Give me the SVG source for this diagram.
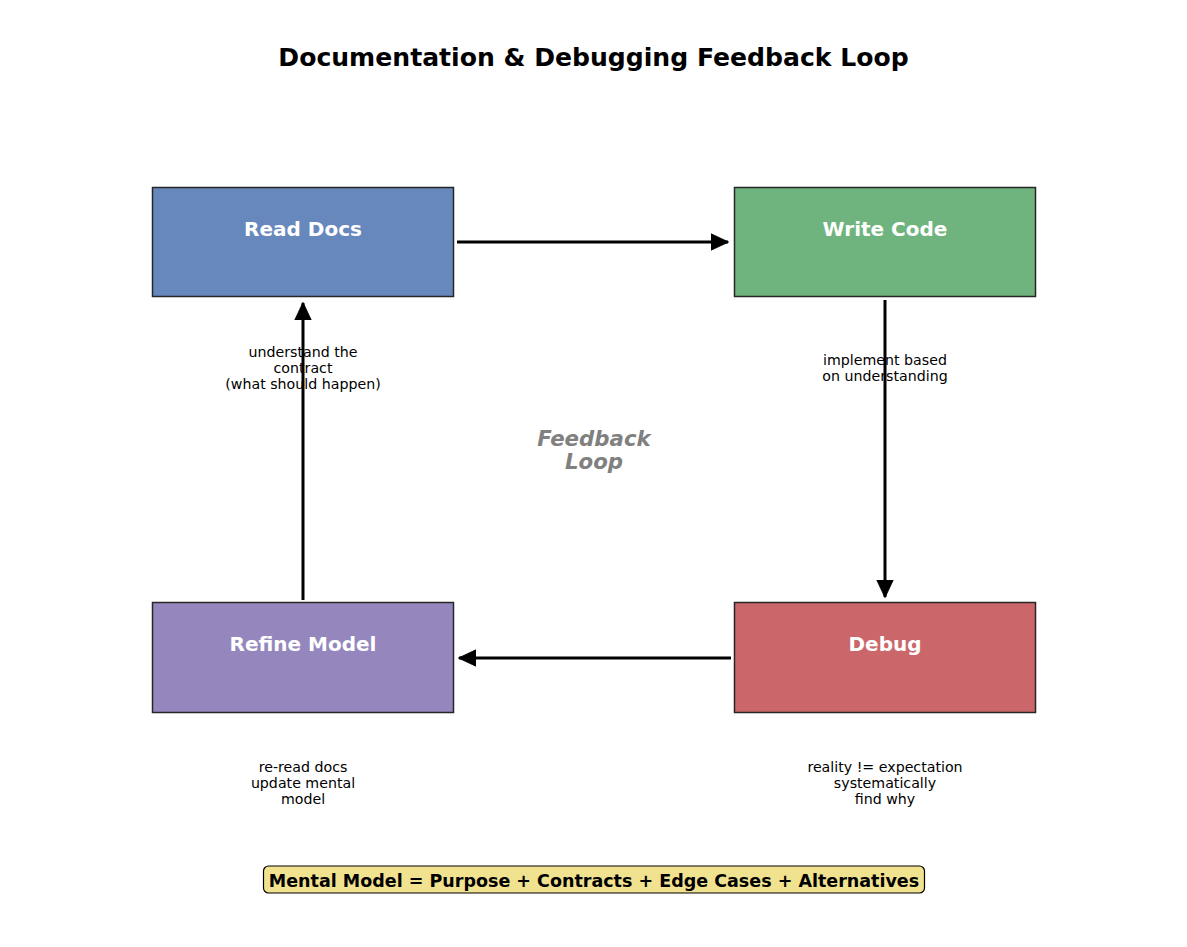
<svg xmlns="http://www.w3.org/2000/svg" width="1187" height="947" viewBox="0 0 1187 947">
<style>
.box{stroke:#262626;stroke-width:1.5}
.lbl{font-family:"DejaVu Sans",sans-serif;font-weight:bold;font-size:20px;fill:#fff;text-anchor:middle}
.ann{font-family:"DejaVu Sans",sans-serif;font-size:14.2px;fill:#000;text-anchor:middle}
.edge{stroke:#000;stroke-width:3;fill:none;marker-end:url(#ah)}
.fb{font-family:"DejaVu Sans",sans-serif;font-weight:bold;font-style:italic;font-size:21.3px;fill:#808080;text-anchor:middle}
</style>
<defs>
<marker id="ah" markerWidth="7" markerHeight="7" refX="5.8" refY="3" orient="auto" markerUnits="strokeWidth">
<path d="M0,0.2 L6,3 L0,5.8 Z" fill="#000" stroke="#000" stroke-width="0.3" stroke-linejoin="round"/>
</marker>
</defs>
<rect width="1187" height="947" fill="#fff"/>
<text x="593.5" y="66" font-family="DejaVu Sans,sans-serif" font-weight="bold" font-size="25.1px" text-anchor="middle" fill="#000">Documentation &amp; Debugging Feedback Loop</text>
<g id="connectors">
<line class="edge" x1="457" y1="242" x2="728" y2="242"/>
<line class="edge" x1="885" y1="300" x2="885" y2="597"/>
<line class="edge" x1="731" y1="658" x2="459" y2="658"/>
<line class="edge" x1="303" y1="600" x2="303" y2="303"/>
</g>
<g id="read-docs">
<rect class="box" x="152.5" y="187.5" width="301" height="109" fill="#6788BC"/>
<text class="lbl" x="303" y="236">Read Docs</text>
</g>
<g id="write-code">
<rect class="box" x="734.5" y="187.5" width="301" height="109" fill="#6FB47E"/>
<text class="lbl" x="885" y="236">Write Code</text>
</g>
<g id="debug">
<rect class="box" x="734.5" y="602.5" width="301" height="110" fill="#CB676A"/>
<text class="lbl" x="885" y="651">Debug</text>
</g>
<g id="refine-model">
<rect class="box" x="152.5" y="602.5" width="301" height="110" fill="#9587BD"/>
<text class="lbl" x="303" y="651">Refine Model</text>
</g>
<g id="annotations">
<text class="ann" x="303" y="357">understand the</text>
<text class="ann" x="303" y="373">contract</text>
<text class="ann" x="303" y="389">(what should happen)</text>
<text class="ann" x="885" y="365">implement based</text>
<text class="ann" x="885" y="381">on understanding</text>
<text class="ann" x="303" y="772">re-read docs</text>
<text class="ann" x="303" y="788">update mental</text>
<text class="ann" x="303" y="804">model</text>
<text class="ann" x="885" y="772">reality != expectation</text>
<text class="ann" x="885" y="788">systematically</text>
<text class="ann" x="885" y="804">find why</text>
</g>
<g id="feedback-loop">
<text class="fb" x="594" y="446">Feedback</text>
<text class="fb" x="594" y="469">Loop</text>
</g>
<g id="summary">
<rect x="263.5" y="866" width="661" height="27" rx="5" fill="#F0E28E" stroke="#000" stroke-width="1.2"/>
<text x="594" y="886.5" font-family="DejaVu Sans,sans-serif" font-weight="bold" font-size="17.5px" fill="#000" text-anchor="middle">Mental Model = Purpose + Contracts + Edge Cases + Alternatives</text>
</g>
</svg>
